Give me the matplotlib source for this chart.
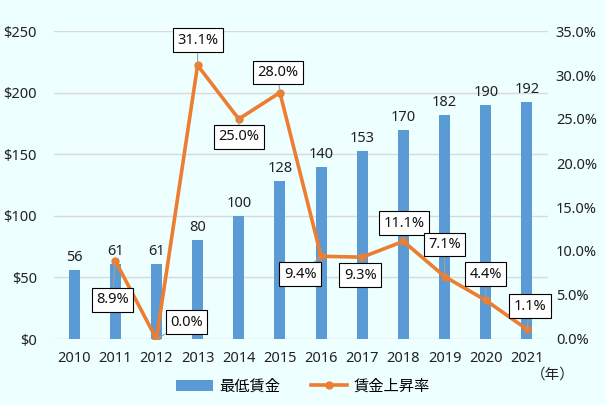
import matplotlib
matplotlib.use("Agg")
import matplotlib.pyplot as plt
from matplotlib.ticker import FuncFormatter, MultipleLocator

plt.rcParams["font.family"] = ["Noto Sans", "Noto Sans CJK JP", "DejaVu Sans"]

years = ["2010", "2011", "2012", "2013", "2014", "2015",
         "2016", "2017", "2018", "2019", "2020", "2021"]
min_wage = [56, 61, 61, 80, 100, 128, 140, 153, 170, 182, 190, 192]
# growth rate starts in 2011
rate_years = years[1:]
wage_growth = [8.9, 0.0, 31.1, 25.0, 28.0, 9.4, 9.3, 11.1, 7.1, 4.4, 1.1]

# label offsets (pixels) for the percentage boxes
label_offsets = [(-3, -39), (30, 17), (0, 25), (0, -18), (-2, 20),
                 (-21, -18), (-2, -18), (1, 18), (0, 32), (0, 26), (3, 23)]

bg = "#EEFFFF"
bar_color = "#5B9BD5"
line_color = "#ED7D31"
fs = 10.5

fig = plt.figure(figsize=(6.06, 4.05), dpi=100, facecolor=bg)
ax = fig.add_axes([53.5 / 606, 1 - 339 / 405, 494 / 606, 308 / 405])
ax.set_facecolor(bg)

x = list(range(len(years)))
ax.bar(x, min_wage, width=0.27, color=bar_color, label="最低賃金", zorder=2)
for xi, v in zip(x, min_wage):
    ax.annotate(str(v), (xi, v), xytext=(0, 5), textcoords="offset pixels",
                ha="center", va="bottom", fontsize=fs, color="#222222")

ax.set_ylim(0, 250)
ax.set_xlim(-0.5, len(years) - 0.5)
ax.yaxis.set_major_locator(MultipleLocator(50))
ax.yaxis.set_major_formatter(FuncFormatter(lambda v, p: f"${v:.0f}"))
ax.set_xticks(x)
ax.set_xticklabels(years)
ax.grid(axis="y", color="#D9D9D9", linewidth=1, zorder=0)
ax.set_axisbelow(True)
for s in ax.spines.values():
    s.set_visible(False)
ax.tick_params(length=0, labelsize=fs, colors="#222222")
ax.tick_params(axis="x", pad=9)
ax.tick_params(axis="y", pad=12)

ax2 = ax.twinx()
rx = x[1:]
ax2.plot(rx, wage_growth, color=line_color, linewidth=2.6, marker="o",
         markersize=5, label="賃金上昇率", zorder=3)
ax2.set_ylim(0, 35)
ax2.yaxis.set_major_locator(MultipleLocator(5))
ax2.yaxis.set_major_formatter(FuncFormatter(lambda v, p: f"{v:.1f}%"))
for s in ax2.spines.values():
    s.set_visible(False)
ax2.tick_params(length=0, labelsize=fs, colors="#222222", pad=6)

for xi, v, (dx, dy) in zip(rx, wage_growth, label_offsets):
    ax2.annotate(f"{v:.1f}%", (xi, v), xytext=(dx, dy), textcoords="offset pixels",
                 ha="center", va="center", fontsize=fs, color="#111111",
                 bbox=dict(boxstyle="square,pad=0.3", fc="white", ec="black", lw=0.8),
                 arrowprops=dict(arrowstyle="-", color="#A0A0A0", lw=0.8,
                                 shrinkA=0, shrinkB=0),
                 zorder=5)

fig.text(553 / 606, 1 - 375 / 405, "（年）", fontsize=fs, ha="center", va="center",
         color="#222222")

h1, l1 = ax.get_legend_handles_labels()
h2, l2 = ax2.get_legend_handles_labels()
fig.legend(h1 + h2, l1 + l2, loc="center", bbox_to_anchor=(0.5, 1 - 387 / 405),
           ncol=2, frameon=False, fontsize=11, handlelength=2.4, columnspacing=2.0,
           handletextpad=0.4)

fig.savefig("out.png", dpi=100, facecolor=bg)
